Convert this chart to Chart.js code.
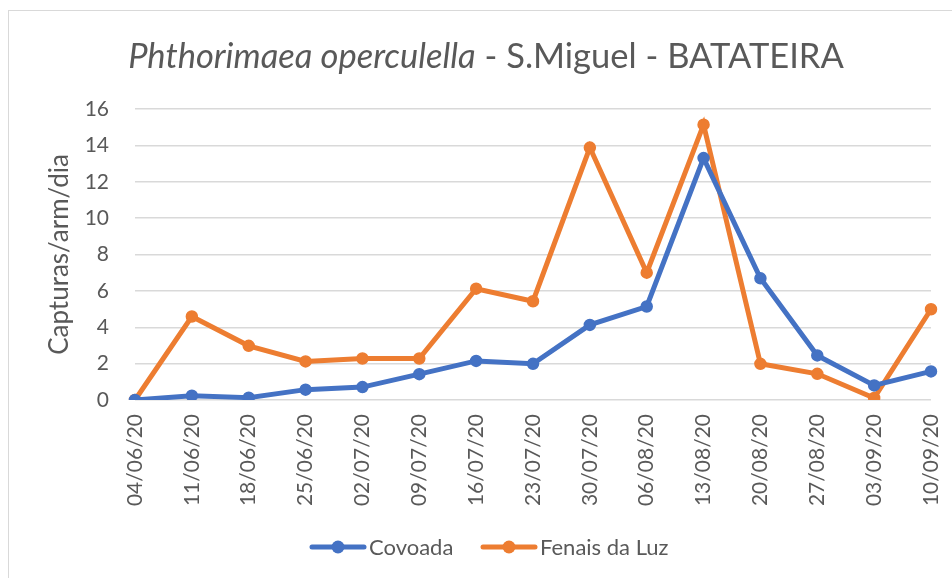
<!DOCTYPE html>
<html><head><meta charset="utf-8">
<script src="https://cdn.jsdelivr.net/npm/chart.js@4/dist/chart.umd.min.js"></script>
<style>html,body{margin:0;padding:0;background:#fff;}#wrap{width:952px;height:578px;position:relative;}</style>
</head><body><div id="wrap"><canvas id="c" width="952" height="578"></canvas></div>
<script>
const dates = ['04/06/20','11/06/20','18/06/20','25/06/20','02/07/20','09/07/20','16/07/20','23/07/20','30/07/20','06/08/20','13/08/20','20/08/20','27/08/20','03/09/20','10/09/20'];
const covoada = [0, 0.24, 0.13, 0.57, 0.71, 1.42, 2.15, 1.99, 4.13, 5.14, 13.3, 6.69, 2.45, 0.8, 1.57];
const fenais = [0, 4.59, 2.98, 2.12, 2.28, 2.28, 6.12, 5.43, 13.88, 7.0, 15.14, 1.99, 1.44, 0.11, 4.99];
const seriesNames = ['Covoada', 'Fenais da Luz'];
const titleItalic = 'Phthorimaea operculella';
const titleRest = ' - S.Miguel - BATATEIRA';
const yTitle = 'Capturas/arm/dia';

const FONT = 'Lato, "Open Sans", sans-serif';
const BLUE = '#4472C4', ORANGE = '#ED7D31', GREY = '#595959';

const deco = {
  id: 'deco',
  afterDraw(chart) {
    const ctx = chart.ctx;
    ctx.save();
    ctx.strokeStyle = '#D9D9D9'; ctx.lineWidth = 1;
    ctx.strokeRect(8.5, 10.5, 1000, 1000);
    const size = 34.5;
    ctx.textBaseline = 'alphabetic';
    ctx.fillStyle = GREY;
    ctx.font = 'italic ' + size + 'px ' + FONT;
    const w1 = ctx.measureText(titleItalic).width;
    ctx.font = size + 'px ' + FONT;
    const w2 = ctx.measureText(titleRest).width;
    let x = 486 - (w1 + w2) / 2;
    ctx.textAlign = 'left';
    ctx.font = 'italic ' + size + 'px ' + FONT;
    ctx.fillText(titleItalic, x, 68);
    ctx.font = size + 'px ' + FONT;
    ctx.fillText(titleRest, x + w1, 68);
    const items = [{x: 310, c: BLUE, t: seriesNames[0]}, {x: 481, c: ORANGE, t: seriesNames[1]}];
    ctx.font = '22px ' + FONT;
    ctx.textBaseline = 'middle';
    items.forEach(it => {
      ctx.strokeStyle = it.c; ctx.lineWidth = 5; ctx.lineCap = 'round';
      ctx.beginPath(); ctx.moveTo(it.x + 2, 547); ctx.lineTo(it.x + 54, 547); ctx.stroke();
      ctx.fillStyle = it.c;
      ctx.beginPath(); ctx.arc(it.x + 28, 547, 6.5, 0, Math.PI * 2); ctx.fill();
      ctx.fillStyle = GREY;
      ctx.fillText(it.t, it.x + 59, 548);
    });
    ctx.restore();
  }
};

new Chart(document.getElementById('c'), {
  type: 'line',
  data: {
    labels: dates,
    datasets: [
      {label: seriesNames[0], data: covoada, borderColor: BLUE, backgroundColor: BLUE, borderWidth: 5, pointRadius: 5.5, pointBorderWidth: 1.5, pointBackgroundColor: BLUE, pointBorderColor: BLUE, tension: 0},
      {label: seriesNames[1], data: fenais, borderColor: ORANGE, backgroundColor: ORANGE, borderWidth: 5, pointRadius: 5.5, pointBorderWidth: 1.5, pointBackgroundColor: ORANGE, pointBorderColor: ORANGE, tension: 0}
    ]
  },
  options: {
    responsive: false,
    animation: false,
    devicePixelRatio: 1,
    layout: {padding: {left: 40, top: 109, right: 21, bottom: 0}},
    plugins: {legend: {display: false}, title: {display: false}, tooltip: {enabled: false}},
    scales: {
      x: {
        offset: false,
        grid: {display: false, drawTicks: false},
        border: {display: false},
        ticks: {minRotation: 90, maxRotation: 90, padding: 14, color: GREY, font: {family: FONT, size: 21}, autoSkip: false},
        afterFit(s) { s.height = 178; s.paddingLeft = 0; s.paddingRight = 0; }
      },
      y: {
        min: 0, max: 16,
        grid: {color: '#D9D9D9', lineWidth: 1.5, drawTicks: false},
        border: {display: false},
        ticks: {stepSize: 2, padding: 26, color: GREY, font: {family: FONT, size: 21}},
        title: {display: true, text: yTitle, color: GREY, font: {family: FONT, size: 26}, padding: {top: 4, bottom: 0}},
        afterFit(s) { s.width = 95; }
      }
    }
  },
  plugins: [deco]
});
</script></body></html>
